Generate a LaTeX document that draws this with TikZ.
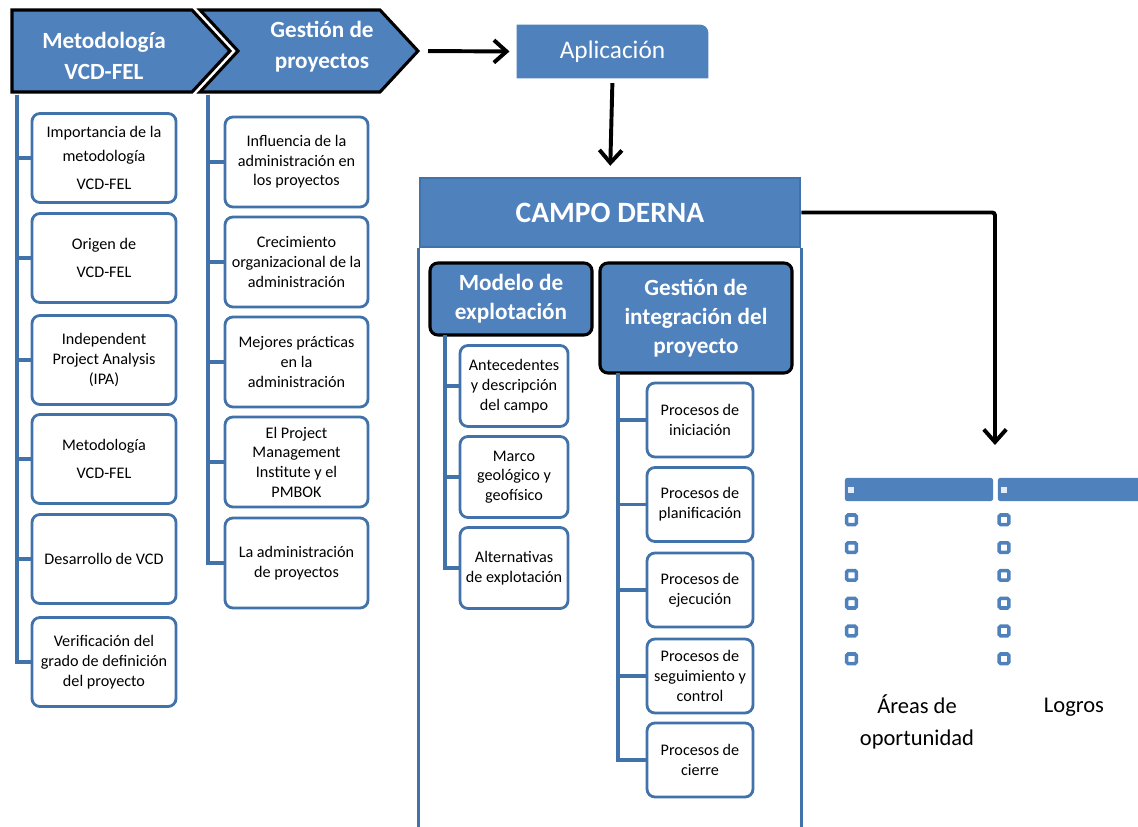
\documentclass[tikz,border=0pt]{standalone}
\usepackage{fontspec}
\setmainfont{Carlito}
\usetikzlibrary{arrows.meta, backgrounds}
\definecolor{boxblue}{RGB}{79,129,189}
\definecolor{lineblue}{RGB}{66,114,170}

\begin{document}
\begin{tikzpicture}[x=0.025cm, y=-0.025cm,
    chevron/.style={fill=boxblue, draw=black, line width=2.2pt, line join=miter},
    headtext/.style={text=white, font=\fontsize{16.5}{22}\selectfont\bfseries, align=center, inner sep=0pt},
    itembox/.style={draw=lineblue, line width=2pt, rounded corners=0.2cm, fill=white,
      align=center, font=\fontsize{11.5}{14}\selectfont, inner sep=0pt},
    subhead/.style={draw=black, line width=2.2pt, fill=boxblue, rounded corners=0.2cm,
      text=white, font=\fontsize{16.5}{20.5}\selectfont\bfseries, align=center},
    trunk/.style={draw=lineblue, line width=2.4pt},
    bigarrow/.style={line width=2.8pt, -{Straight Barb[length=9pt, width=16pt]}},
    listbar/.style={fill=boxblue, rounded corners=1.5pt, minimum height=0.575cm, inner sep=0pt},
    barmark/.style={fill=white!85!boxblue, minimum size=0.15cm, inner sep=0pt},
    bullet/.style={draw=boxblue, line width=2.5pt, fill=white, rounded corners=1pt,
      minimum size=0.24cm, inner sep=0pt}]
  \useasboundingbox (0,0) rectangle (1138,827);

  % chevrons
  \draw[chevron] (12,10) -- (192,10) -- (230,51) -- (192,92) -- (12,92) -- cycle;
  \draw[chevron] (200,10) -- (380,10) -- (418,51) -- (380,92) -- (200,92) -- (238,51) -- cycle;
  \node[headtext] (metod) at (104,56) {Metodología\\VCD-FEL};
  \node[headtext] (gestion) at (322,47) {Gestión de\\proyectos};
  \coordinate (metodRoot) at (17,95);
  \coordinate (gestRoot) at (208,95);
  \coordinate (gestTip) at (418,51);

  % first column
  \foreach \i/\y/\txt in {1/158/{Importancia de la\\[3pt]metodología\\[6pt]VCD-FEL},
      2/258/{Origen de\\[6pt]VCD-FEL},
      3/360/{Independent\\Project Analysis\\(IPA)},
      4/459/{Metodología\\[6pt]VCD-FEL},
      5/559/{Desarrollo de VCD},
      6/662/{Verificación del\\grado de definición\\del proyecto}} {
    \node[itembox, minimum width=3.6cm, minimum height=2.225cm] (m\i) at (104,\y) {\txt};
    \draw[trunk] (metodRoot) |- (m\i.west);
  }

  % second column
  \foreach \i/\y/\txt in {1/162/{Influencia de la\\administración en\\los proyectos},
      2/262/{Crecimiento\\organizacional de la\\administración},
      3/362/{Mejores prácticas\\en la\\administración},
      4/462/{El Project\\Management\\Institute y el\\PMBOK},
      5/563/{La administración\\de proyectos}} {
    \node[itembox, minimum width=3.575cm, minimum height=2.25cm] (g\i) at (296.5,\y) {\txt};
    \draw[trunk] (gestRoot) |- (g\i.west);
  }

  \node[text=white, font=\fontsize{18}{22}\selectfont, minimum width=4.775cm,
    minimum height=1.325cm] (aplic) at (612.5,51.5) {Aplicación};
  \begin{scope}[on background layer]
    \fill[boxblue] (aplic.south west) -- (aplic.north west) -- ([xshift=-0.2cm]aplic.north east)
      arc[start angle=90, end angle=0, radius=0.2cm] -- (aplic.south east) -- cycle;
  \end{scope}

  \node[draw=lineblue, line width=2pt, fill=boxblue, minimum width=9.5cm, minimum height=1.725cm,
    text=white, font=\fontsize{21}{25}\selectfont\bfseries] (campo) at (610,212.5) {CAMPO DERNA};
  \draw[lineblue, line width=2pt] (campo.south west) -- ++(0,640);
  \draw[lineblue, line width=2pt] (campo.south east) -- ++(0,640);

  \node[subhead, minimum width=4.05cm, minimum height=1.8cm] (modelo) at (511,299) {Modelo de\\explotación};
  \node[subhead, minimum width=4.8cm, minimum height=2.75cm] (integ) at (696,318)
    {Gestión de\\integración del\\proyecto};
  \coordinate (modeloRoot) at (445,335);
  \coordinate (integRoot) at (618,373);

  \foreach \i/\y/\txt in {1/386/{Antecedentes\\y descripción\\del campo},
      2/477/{Marco\\geológico y\\geofísico},
      3/568/{Alternativas\\de explotación}} {
    \node[itembox, minimum width=2.7cm, minimum height=2.025cm] (e\i) at (514,\y) {\txt};
    \draw[trunk] (modeloRoot) |- (e\i.west);
  }

  \foreach \i/\y/\txt in {1/420/{Procesos de\\iniciación},
      2/504.5/{Procesos de\\planificación},
      3/590/{Procesos de\\ejecución},
      4/676/{Procesos de\\seguimiento y\\control},
      5/760/{Procesos de\\cierre}} {
    \node[itembox, minimum width=2.65cm, minimum height=1.85cm] (p\i) at (700,\y) {\txt};
    \draw[trunk] (integRoot) |- (p\i.west);
  }

  % arrows
  \coordinate (listTop) at (995,445);
  \draw[bigarrow, shorten <=0.25cm, shorten >=0.18cm] (gestTip) -- (aplic.west);
  \draw[bigarrow, shorten <=0.12cm, shorten >=0.27cm] (aplic.south) -- (campo.north);
  \draw[bigarrow, rounded corners=2pt] (campo.east) -| (listTop);

  % lists on the right
  \node[listbar, minimum width=3.7cm] (areasBar) at (919,489.5) {};
  \node[listbar, minimum width=3.9cm] (logrosBar) at (1076,489.5) {};
  \node[barmark] (areasMark) at (851,489.5) {};
  \node[barmark] (logrosMark) at (1004,489.5) {};
  \foreach \k in {1,...,6} {
    \node[bullet] (ab\k) at (851.5,{492+27.8*\k}) {};
    \node[bullet] (lb\k) at (1004,{492+27.8*\k}) {};
  }
  \node[font=\fontsize{16}{23}\selectfont, align=center] (areasLabel) at (917,722) {Áreas de\\oportunidad};
  \node[font=\fontsize{16}{23}\selectfont] (logrosLabel) at (1074,707) {Logros};
\end{tikzpicture}
\end{document}
